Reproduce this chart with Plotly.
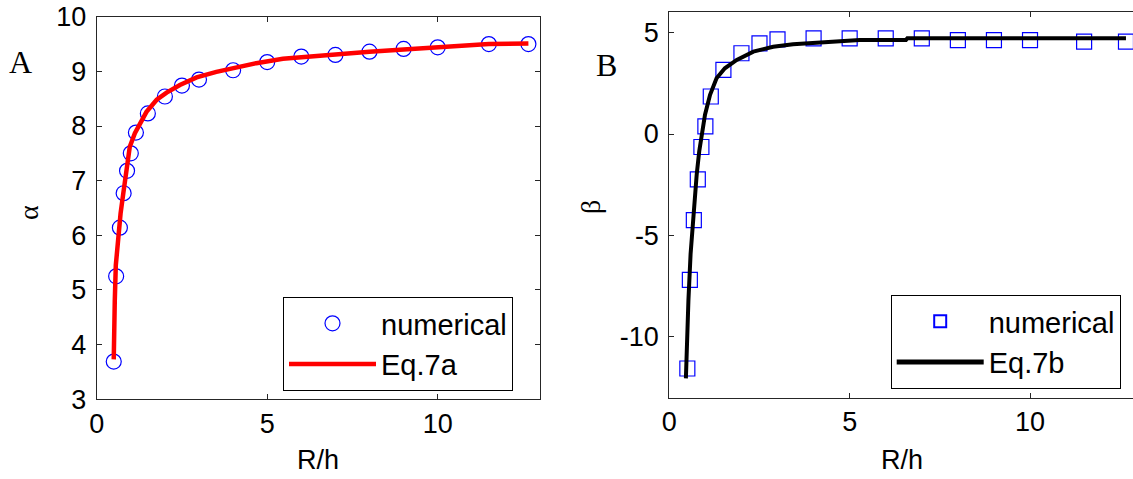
import plotly.graph_objects as go

# ---------------- data ----------------
r_h = [0.5, 0.57, 0.68, 0.79, 0.89, 1.0, 1.15, 1.5, 2.0, 2.5, 3.0, 4.0, 5.0, 6.0, 7.0, 8.0, 9.0, 10.0, 11.5, 12.66]
alpha_num = [3.69, 5.25, 6.14, 6.77, 7.18, 7.50, 7.88, 8.23, 8.54, 8.74, 8.85, 9.02, 9.17, 9.27, 9.30, 9.36, 9.41, 9.44, 9.50, 9.50]
beta_num = [-11.56, -7.19, -4.25, -2.24, -0.64, 0.38, 1.85, 3.16, 3.98, 4.47, 4.67, 4.71, 4.71, 4.71, 4.71, 4.63, 4.63, 4.63, 4.55, 4.55]

eq7a_x = [0.50, 0.50, 0.53, 0.56, 0.60, 0.65, 0.70, 0.78, 0.88, 0.97, 1.12, 1.27, 1.46, 1.76, 2.05, 2.44,
          2.93, 3.51, 4.00, 4.68, 5.46, 6.0, 7.0, 8.0, 9.0, 10.0, 10.5, 11.5, 12.66]
eq7a_y = [3.73, 4.60, 4.80, 5.45, 5.80, 6.10, 6.40, 6.77, 7.26, 7.62, 7.87, 8.05, 8.26, 8.48, 8.61, 8.75,
          8.89, 8.99, 9.06, 9.15, 9.23, 9.26, 9.31, 9.36, 9.40, 9.44, 9.47, 9.50, 9.51]

eq7b_x = [0.46, 0.48, 0.53, 0.59, 0.64, 0.69, 0.76, 0.83, 0.90, 0.99, 1.13, 1.31, 1.54, 1.87, 2.33, 2.88,
          3.43, 4.08, 4.70, 5.28, 6.56, 6.60, 8.0, 10.0, 12.66]
eq7b_y = [-12.05, -10.33, -8.20, -5.92, -4.61, -3.14, -1.99, -0.85, -0.03, 0.95, 1.93, 2.75, 3.24, 3.65,
          4.06, 4.30, 4.43, 4.51, 4.55, 4.63, 4.63, 4.72, 4.72, 4.72, 4.72]

x_ticks = [0, 5, 10]
x_ticktext = ["0", "5", "10"]
a_yticks = [3, 4, 5, 6, 7, 8, 9, 10]
a_yticktext = ["3", "4", "5", "6", "7", "8", "9", "10"]
b_yticks = [-10, -5, 0, 5]
b_yticktext = ["-10", "-5", "0", "5"]

W, H = 1133, 479
AX = "#262626"
SANS = "Liberation Sans, Arial, sans-serif"
SERIF = "Liberation Serif, Times New Roman, serif"
TICKFONT = dict(family=SANS, size=27, color="black")
LEGFONT = dict(family=SANS, size=29, color="black")

fig = go.Figure()

fig.add_trace(go.Scatter(x=r_h, y=alpha_num, mode="markers", name="numerical",
                         marker=dict(symbol="circle-open", size=15, color="#0000ff", line=dict(width=1.2)),
                         xaxis="x", yaxis="y", legend="legend", legendgroup="a1"))
fig.add_trace(go.Scatter(x=eq7a_x, y=eq7a_y, mode="lines", name="Eq.7a",
                         line=dict(color="#ff0000", width=4.5),
                         xaxis="x", yaxis="y", legend="legend", legendgroup="a2"))
fig.add_trace(go.Scatter(x=r_h, y=beta_num, mode="markers", name="numerical",
                         marker=dict(symbol="square-open", size=15, color="#0000ff", line=dict(width=1.2)),
                         xaxis="x2", yaxis="y2", legend="legend2", legendgroup="b1"))
fig.add_trace(go.Scatter(x=eq7b_x, y=eq7b_y, mode="lines", name="Eq.7b",
                         line=dict(color="black", width=4),
                         xaxis="x2", yaxis="y2", legend="legend2", legendgroup="b2"))

common = dict(showgrid=False, zeroline=False, showline=True, linecolor=AX, linewidth=1,
              ticks="inside", ticklen=5, tickcolor=AX, tickwidth=1, tickfont=TICKFONT,
              automargin=False)

fig.update_layout(
    template="none",
    width=W, height=H, autosize=False,
    margin=dict(l=0, r=0, t=0, b=0, pad=0),
    paper_bgcolor="white", plot_bgcolor="white",
    xaxis=dict(domain=[96.7 / W, 540 / W], range=[0, 13], tickvals=x_ticks, ticktext=x_ticktext,
               mirror="ticks", anchor="y", **common),
    yaxis=dict(domain=[(H - 399.3) / H, (H - 16.7) / H], range=[3, 10], tickvals=a_yticks,
               ticktext=a_yticktext, mirror="ticks", anchor="x", ticklabelstandoff=4, **common),
    xaxis2=dict(domain=[669.3 / W, 1.0], range=[0, 12.855], tickvals=x_ticks, ticktext=x_ticktext,
                mirror="ticks", anchor="y2", **common),
    yaxis2=dict(domain=[(H - 397.7) / H, (H - 12.3) / H], range=[-13, 6], tickvals=b_yticks,
                ticktext=b_yticktext, mirror=False, anchor="x2", ticklabelstandoff=4, **common),
    legend=dict(x=283 / W, y=(H - 297) / H, xanchor="left", yanchor="top",
                bordercolor="black", borderwidth=1, bgcolor="white",
                font=LEGFONT, itemwidth=87,
                traceorder="grouped", tracegroupgap=0),
    legend2=dict(x=890.7 / W, y=(H - 295) / H, xanchor="left", yanchor="top",
                 bordercolor="black", borderwidth=1, bgcolor="white",
                 font=LEGFONT, itemwidth=87, itemsizing="constant",
                 traceorder="grouped", tracegroupgap=0),
    showlegend=True,
    annotations=[
        dict(text="A", x=21 / W, y=(H - 62) / H, xref="paper", yref="paper", showarrow=False,
             font=dict(family=SERIF, size=32, color="black"), xanchor="center", yanchor="middle"),
        dict(text="B", x=606 / W, y=(H - 65) / H, xref="paper", yref="paper", showarrow=False,
             font=dict(family=SERIF, size=32, color="black"), xanchor="center", yanchor="middle"),
        dict(text="R/h", x=318 / W, y=(H - 460) / H, xref="paper", yref="paper", showarrow=False,
             font=dict(family=SANS, size=27, color="black"), xanchor="center", yanchor="middle"),
        dict(text="R/h", x=902 / W, y=(H - 460) / H, xref="paper", yref="paper", showarrow=False,
             font=dict(family=SANS, size=27, color="black"), xanchor="center", yanchor="middle"),
        dict(text="α", x=28 / W, y=(H - 213) / H, xref="paper", yref="paper", showarrow=False,
             textangle=-90, font=dict(family=SERIF, size=28, color="black"),
             xanchor="center", yanchor="middle"),
        dict(text="β", x=590 / W, y=(H - 207) / H, xref="paper", yref="paper", showarrow=False,
             textangle=-90, font=dict(family=SERIF, size=28, color="black"),
             xanchor="center", yanchor="middle"),
    ],
)

fig.write_html("out.html")
